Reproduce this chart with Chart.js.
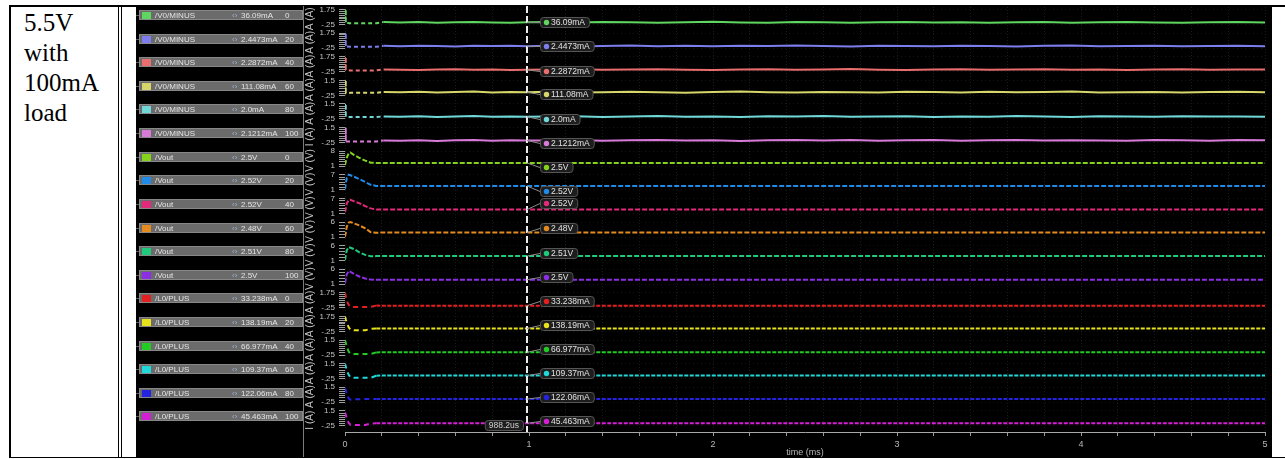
<!DOCTYPE html>
<html>
<head>
<meta charset="utf-8">
<title>5.5V with 100mA load</title>
<script src="https://cdn.jsdelivr.net/npm/chart.js@4.4.1/dist/chart.umd.min.js"></script>
<style>
  html, body { margin: 0; padding: 0; background: #fff; }
  body { width: 1285px; height: 459px; position: relative; overflow: hidden; }
  .rule { position: absolute; background: #000; }
  #condition {
    position: absolute; left: 24px; top: 8px; width: 84px;
    font: 25px/30px 'Liberation Serif', 'Times New Roman', serif; color: #000;
  }
  #wave { position: absolute; left: 136px; top: 6px; background: #000; }
</style>
</head>
<body>
<div id="condition">5.5V with 100mA load</div>
<div class="rule" style="left:9px;top:5px;width:1276px;height:2px"></div>
<div class="rule" style="left:9px;top:457px;width:1276px;height:1px"></div>
<div class="rule" style="left:9px;top:5px;width:2px;height:453px"></div>
<div class="rule" style="left:118px;top:5px;width:1px;height:453px"></div>
<div class="rule" style="left:121px;top:5px;width:1px;height:453px"></div>
<div class="rule" style="left:1271px;top:5px;width:1px;height:453px"></div>
<canvas id="wave" width="1135" height="451"></canvas>
<script>
// ---- sweep and signal set ----
const sweepPoints = [0, 20, 40, 60, 80, 100];
const signalNames = ['/V0/MINUS', '/Vout', '/L0/PLUS'];
const signalUnits = ['A', 'V', 'A'];

// ---- per-strip axis labels ----
const axisTitles = ['A (A)', 'A (A)', 'A (A)', 'A (A)', 'A (A)', 'I (A)',
                    'V (V)', 'V (V)', 'V (V)', 'V (V)', 'V (V)', 'V (V)',
                    'A (A)', 'A (A)', 'A (A)', 'A (A)', 'A (A)', 'I (A)'];
const axisTopTicks = [1.75, 1.75, 1.75, 1.5, 1.5, 1.5,
                      8, 7, 7, 6, 6, 6,
                      1.75, 1.75, 1.5, 1.5, 1.5, 1.5];
const axisBottomTicks = [-0.25, -0.25, -0.25, -0.25, -0.25, -0.25,
                         1, 1, 1, 1, 1, 1,
                         -0.25, -0.25, -0.25, -0.25, -0.25, -0.25];
const axisTickSteps = [0.25, 0.25, 0.25, 0.25, 0.25, 0.25,
                       1, 1, 1, 1, 1, 1,
                       0.25, 0.25, 0.25, 0.25, 0.25, 0.25];
const timeMajorTicks = [0, 1, 2, 3, 4, 5];
const cursorTimeMs = 0.9882;

// ---- /V0/MINUS currents (A) ----
const tMinus = [0, 0.004, 0.03, 0.08, 0.13, 0.17, 0.21, 0.3, 0.4, 0.5, 0.6, 0.7, 0.8, 0.9, 0.9882, 1.1,
  1.25, 1.4, 1.55, 1.7, 1.85, 2.0, 2.15, 2.3, 2.45, 2.6, 2.75, 2.9, 3.05, 3.2, 3.35, 3.5, 3.65, 3.8, 3.95,
  4.1, 4.25, 4.4, 4.55, 4.7, 4.85, 5.0];
const iMinus0 = [1.78, -0.02, -0.08, -0.08, -0.08, -0.08, 0.09, 0.02, 0.08, -0.01, 0.06, 0.10, 0.03, -0.02, 0.03609, 0.07,
  0.01, 0.09, 0.04, -0.02, 0.06, 0.11, 0.03, 0.00, 0.07, 0.05, -0.03, 0.04, 0.10, 0.02, 0.06, -0.01, 0.05, 0.09, 0.00,
  0.04, 0.08, 0.02, -0.02, 0.06, 0.10, 0.03];
const iMinus20 = [1.78, -0.03, -0.08, -0.08, -0.08, -0.08, 0.05, 0.00, 0.07, 0.03, -0.03, 0.06, 0.02, 0.08, 0.0024473, 0.05,
  -0.02, 0.04, 0.09, 0.01, 0.05, -0.01, 0.07, 0.03, 0.10, 0.02, -0.02, 0.06, 0.04, 0.00, 0.08, 0.03, -0.03, 0.05, 0.09,
  0.01, 0.04, 0.07, -0.01, 0.03, 0.06, 0.00];
const iMinus40 = [1.70, -0.03, -0.07, -0.07, -0.07, -0.07, 0.06, 0.03, -0.01, 0.05, 0.08, 0.02, 0.06, -0.02, 0.0022872, 0.04,
  0.07, 0.00, 0.05, 0.09, 0.03, -0.02, 0.04, 0.08, 0.01, 0.06, 0.10, 0.02, -0.01, 0.05, 0.07, 0.00, 0.04, 0.08, 0.03,
  0.06, -0.01, 0.05, 0.09, 0.02, 0.04, 0.06];
const iMinus60 = [1.50, 0.00, 0.04, 0.04, 0.04, 0.04, 0.15, 0.10, 0.17, 0.08, 0.13, 0.19, 0.09, 0.14, 0.11108, 0.16,
  0.07, 0.12, 0.18, 0.10, 0.06, 0.14, 0.20, 0.11, 0.08, 0.15, 0.12, 0.07, 0.17, 0.13, 0.09, 0.16, 0.10, 0.14, 0.19,
  0.08, 0.12, 0.15, 0.09, 0.13, 0.18, 0.11];
const iMinus80 = [1.50, -0.02, -0.02, -0.02, -0.02, -0.02, 0.05, 0.01, 0.06, -0.03, 0.04, 0.08, 0.00, 0.05, 0.0020, 0.03,
  0.07, -0.01, 0.04, 0.09, 0.02, 0.05, -0.02, 0.06, 0.03, 0.08, 0.00, 0.04, 0.07, -0.01, 0.05, 0.02, 0.08, 0.03, -0.02,
  0.06, 0.04, 0.01, 0.07, 0.03, 0.05, 0.00];
const iMinus100 = [1.50, -0.12, -0.12, -0.12, -0.12, -0.12, 0.00, -0.04, 0.03, -0.06, 0.01, 0.05, -0.03, 0.02, 0.0021212, -0.02,
  0.04, -0.05, 0.01, 0.06, -0.02, 0.03, -0.06, 0.02, 0.05, -0.01, 0.04, -0.04, 0.01, 0.06, -0.03, 0.02, 0.05, -0.02, 0.03,
  0.00, -0.05, 0.04, 0.01, -0.03, 0.05, 0.02];

// ---- /Vout (V) and /L0/PLUS (A) share one time base ----
const tStep = [0, 0.005, 0.01, 0.02, 0.03, 0.05, 0.08, 0.11, 0.14, 0.17, 0.2, 0.35, 0.55, 0.75, 0.9882,
  1.25, 1.6, 2.0, 2.4, 2.8, 3.2, 3.6, 4.0, 4.5, 5.0];
const vOut0 = [1.5, 3.4, 5.0, 7.0, 7.3, 6.2, 4.8, 3.6, 2.6, 2.5, 2.5, 2.5, 2.5, 2.5, 2.5,
  2.5, 2.5, 2.5, 2.5, 2.5, 2.5, 2.5, 2.5, 2.5, 2.5];
const vOut20 = [1.2, 3.8, 5.8, 7.0, 6.8, 6.2, 5.2, 4.1, 3.0, 2.52, 2.52, 2.52, 2.52, 2.52, 2.52,
  2.52, 2.52, 2.52, 2.52, 2.52, 2.52, 2.52, 2.52, 2.52, 2.52];
const vOut40 = [1.5, 3.2, 5.0, 6.3, 6.4, 5.8, 5.0, 3.9, 3.0, 2.52, 2.52, 2.52, 2.52, 2.52, 2.52,
  2.52, 2.52, 2.52, 2.52, 2.52, 2.52, 2.52, 2.52, 2.52, 2.52];
const vOut60 = [1.1, 2.8, 4.5, 5.8, 6.0, 5.5, 4.8, 3.9, 2.6, 2.45, 2.47, 2.48, 2.48, 2.48, 2.48,
  2.48, 2.48, 2.48, 2.48, 2.48, 2.48, 2.48, 2.48, 2.48, 2.48];
const vOut80 = [1.2, 3.0, 4.5, 5.5, 5.3, 4.8, 3.7, 2.9, 2.45, 2.5, 2.51, 2.51, 2.51, 2.51, 2.51,
  2.51, 2.51, 2.51, 2.51, 2.51, 2.51, 2.51, 2.51, 2.51, 2.51];
const vOut100 = [1.3, 3.0, 4.3, 5.4, 5.1, 4.4, 3.5, 2.9, 2.55, 2.5, 2.5, 2.5, 2.5, 2.5, 2.5,
  2.5, 2.5, 2.5, 2.5, 2.5, 2.5, 2.5, 2.5, 2.5, 2.5];
const iPlus0 = [1.75, 1.2, 0.7, 0.15, -0.12, -0.13, -0.12, -0.13, -0.13, 0.05, 0.04, 0.03, 0.035, 0.03, 0.033238,
  0.035, 0.03, 0.034, 0.032, 0.035, 0.03, 0.033, 0.034, 0.031, 0.033];
const iPlus20 = [1.75, 1.3, 0.9, 0.3, -0.05, -0.1, -0.1, -0.1, 0.12, 0.14, 0.135, 0.14, 0.137, 0.14, 0.13819,
  0.136, 0.14, 0.138, 0.135, 0.139, 0.137, 0.14, 0.136, 0.138, 0.139];
const iPlus40 = [1.5, 1.1, 0.7, 0.15, -0.1, -0.12, -0.12, -0.12, -0.12, 0.06, 0.07, 0.065, 0.068, 0.066, 0.066977,
  0.067, 0.065, 0.068, 0.066, 0.067, 0.069, 0.066, 0.067, 0.065, 0.068];
const iPlus60 = [1.5, 1.1, 0.7, 0.2, -0.1, -0.15, -0.15, -0.15, -0.14, 0.1, 0.11, 0.108, 0.11, 0.109, 0.10937,
  0.11, 0.108, 0.109, 0.111, 0.108, 0.11, 0.109, 0.107, 0.11, 0.109];
const iPlus80 = [1.4, 1.1, 0.7, 0.2, 0.05, 0.1, 0.11, 0.12, 0.12, 0.122, 0.121, 0.123, 0.12, 0.122, 0.12206,
  0.121, 0.123, 0.122, 0.12, 0.122, 0.123, 0.121, 0.122, 0.12, 0.122];
const iPlus100 = [1.3, 1.0, 0.6, 0.1, -0.12, -0.15, -0.15, -0.15, 0.04, 0.045, 0.046, 0.044, 0.045, 0.046, 0.045463,
  0.044, 0.046, 0.045, 0.044, 0.046, 0.045, 0.047, 0.045, 0.044, 0.046];

// ---- trace styling ----
const traceColors = ['#5fd65f', '#7d7ded', '#ea6e6e', '#d6d66a', '#70d8d8', '#d87ad8',
                     '#84d21c', '#1f8be6', '#e2297c', '#e38b1f', '#1fca7c', '#8d2de6',
                     '#e3201f', '#e8e21c', '#22cc22', '#20d8d8', '#2424e0', '#d420d4'];
const groupStyle = [
  { early: [4, 3], late: [], earlyEnd: 0.2 },
  { early: [5, 2], late: [5, 2], earlyEnd: 0 },
  { early: [5, 4], late: [4, 1.5], earlyEnd: 0.17 }
];
const calloutNudge = [0, 0, 1, 2, 2, 3, 4.5, 5.5, -6.5, -4.5, -3.5, -3, -5, -4, -3.5, -3, -2, -2];

// ---- strips: one y axis per signal/sweep combination ----
const groupTimes = [tMinus, tStep, tStep];
const groupValues = [
  [iMinus0, iMinus20, iMinus40, iMinus60, iMinus80, iMinus100],
  [vOut0, vOut20, vOut40, vOut60, vOut80, vOut100],
  [iPlus0, iPlus20, iPlus40, iPlus60, iPlus80, iPlus100]
];

function tickText(v) {
  return String(v).replace(/^(-?)0\./, '$1.');
}
function formatReading(v, unit) {
  let n = v, suffix = unit;
  if (unit === 'A' && Math.abs(v) < 1) { n = v * 1000; suffix = 'mA'; }
  let s = String(Number(n.toPrecision(5)));
  if (!s.includes('.')) s += '.0';
  return s + suffix;
}
function formatTime(ms) {
  return String(Number((ms * 1000).toPrecision(4))) + 'us';
}
function readingAt(ds, t) {
  return ds.data.find(p => p.x === t).y;
}
// strips butt against each other: no half-label padding above/below
function stripFit(s) {
  s.width = 40;
  s.paddingTop = 0;
  s.paddingBottom = 0;
}

const lanes = [];
signalNames.forEach((name, g) => {
  sweepPoints.forEach((sweep, k) => {
    const i = lanes.length;
    const lo = axisBottomTicks[i], hi = axisTopTicks[i], step = axisTickSteps[i];
    const tickValues = [];
    for (let v = lo; v <= hi + 1e-9; v += step) tickValues.push(Number(v.toFixed(4)));
    lanes.push({ name, sweep, unit: signalUnits[g], group: g, t: groupTimes[g], v: groupValues[g][k],
                 lo, hi, tickValues, title: axisTitles[i] });
  });
});

const datasets = lanes.map((ln, i) => {
  const st = groupStyle[ln.group];
  return {
    label: ln.name + ' ' + ln.sweep,
    signal: ln.name,
    sweep: ln.sweep,
    unit: ln.unit,
    data: ln.t.map((t, k) => ({ x: t, y: ln.v[k] })),
    yAxisID: 'y' + i,
    borderColor: traceColors[i],
    backgroundColor: traceColors[i],
    borderWidth: 2,
    borderDash: st.late,
    pointRadius: 0,
    fill: false,
    segment: { borderDash: c => (c.p0.parsed.x < st.earlyEnd ? st.early : undefined) }
  };
});

const scales = {
  x: {
    type: 'linear', min: 0, max: 5,
    afterFit: s => { s.height = 25; s.paddingLeft = 0; s.paddingRight = 0; },
    ticks: {
      stepSize: 0.2, autoSkip: false, maxRotation: 0, color: '#b8b8b8', font: { size: 9 }, padding: 3,
      callback: v => {
        const r = Math.round(v);
        return (Math.abs(v - r) < 1e-6 && timeMajorTicks.includes(r)) ? String(r) : '';
      }
    },
    grid: { color: 'rgba(255,255,255,0.10)', tickColor: '#9a9a9a', tickLength: 4 },
    border: { display: true, color: '#a8a8a8', dash: [1, 2] },
    title: { display: true, text: 'time (ms)', color: '#b8b8b8', font: { size: 9, lineHeight: 1 }, padding: 0 }
  }
};
lanes.forEach((ln, i) => {
  const span = ln.hi - ln.lo;
  scales['y' + i] = {
    type: 'linear', position: 'left', stack: 'strips', stackWeight: 1, weight: lanes.length - i, offset: false,
    min: ln.lo - span * 0.407, max: ln.hi + span * 0.1667,
    afterFit: stripFit,
    afterBuildTicks: s => { s.ticks = ln.tickValues.map(v => ({ value: v })); },
    ticks: {
      autoSkip: false, color: '#c4c4c4', font: { size: 8 }, padding: 4,
      callback: v => (v === ln.hi || v === ln.lo) ? tickText(v) : ''
    },
    grid: {
      drawOnChartArea: true, tickLength: 6, tickColor: '#a0a0a0',
      color: c => (c.tick && (c.tick.value === ln.hi || c.tick.value === ln.lo)) ? 'rgba(255,255,255,0.08)' : 'rgba(0,0,0,0)'
    },
    border: { display: false, dash: [1, 3] },
    title: { display: true, text: ln.title, color: '#c4c4c4', font: { size: 10, lineHeight: 1 }, padding: 0 }
  };
});

// Signal list on the left: one grey row per trace
const signalPanel = {
  id: 'signalPanel',
  afterDraw(chart, args, o) {
    const ctx = chart.ctx;
    ctx.save();
    ctx.strokeStyle = '#7c7c7c';
    ctx.lineWidth = 1;
    ctx.beginPath();
    ctx.moveTo(o.dividerX + 0.5, 0);
    ctx.lineTo(o.dividerX + 0.5, chart.height);
    ctx.stroke();
    ctx.textBaseline = 'middle';
    chart.data.datasets.forEach((ds, i) => {
      const sc = chart.scales['y' + i];
      const cy = Math.round(sc.top + o.rowOffset);
      ctx.strokeStyle = '#5c5c5c';
      ctx.beginPath(); ctx.moveTo(0, cy + 0.5); ctx.lineTo(o.barLeft, cy + 0.5); ctx.stroke();
      ctx.fillStyle = '#6b6b6b';
      ctx.fillRect(o.barLeft, cy - 5, o.barWidth, 10);
      ctx.strokeStyle = '#888';
      ctx.strokeRect(o.barLeft + 0.5, cy - 4.5, o.barWidth - 1, 9);
      ctx.fillStyle = ds.borderColor;
      ctx.fillRect(o.swatchX, cy - 3, 9, 7);
      ctx.font = "8px 'Liberation Sans', Arial, sans-serif";
      ctx.fillStyle = '#e4e4e4';
      ctx.fillText(ds.signal, o.nameX, cy + 0.5);
      ctx.fillText(formatReading(readingAt(ds, cursorTimeMs), ds.unit), o.valueX, cy + 0.5);
      ctx.fillText(String(ds.sweep), o.sweepX, cy + 0.5);
      ctx.fillStyle = '#9db5d8';
      ctx.fillText('‹›', o.iconX, cy + 0.5);
    });
    ctx.restore();
  }
};

// Vertical cursor with a reading for every trace
const cursorReadout = {
  id: 'cursorReadout',
  afterDatasetsDraw(chart, args, o) {
    const { ctx, chartArea, scales: sc } = chart;
    const x = Math.round(sc.x.getPixelForValue(o.time));
    ctx.save();
    ctx.strokeStyle = '#ececec';
    ctx.lineWidth = 2;
    ctx.setLineDash([7, 3]);
    ctx.beginPath(); ctx.moveTo(x, 0); ctx.lineTo(x, chartArea.bottom); ctx.stroke();
    ctx.setLineDash([]);
    ctx.font = "8.5px 'Liberation Sans', Arial, sans-serif";
    ctx.textBaseline = 'middle';
    chart.data.datasets.forEach((ds, i) => {
      const v = readingAt(ds, o.time);
      const ty = sc['y' + i].getPixelForValue(v);
      const ly = Math.round(ty + o.nudge[i]) + 0.5;
      const text = formatReading(v, ds.unit);
      const w = ctx.measureText(text).width;
      const bx = x + 13, bw = w + 15, bh = 10;
      ctx.strokeStyle = '#8c8c8c'; ctx.lineWidth = 1;
      ctx.beginPath(); ctx.moveTo(x, ty); ctx.lineTo(bx, ly); ctx.stroke();
      ctx.fillStyle = '#1d1d1d'; ctx.strokeStyle = '#555';
      ctx.beginPath(); ctx.roundRect(bx + 0.5, ly - bh / 2, bw, bh, 3); ctx.fill(); ctx.stroke();
      ctx.fillStyle = ds.borderColor;
      ctx.beginPath(); ctx.arc(bx + 6.5, ly, 2.7, 0, Math.PI * 2); ctx.fill();
      ctx.fillStyle = '#e2e2e2';
      ctx.fillText(text, bx + 11, ly + 0.5);
    });
    const tt = formatTime(o.time);
    const tw = ctx.measureText(tt).width + 8;
    const ty = chartArea.bottom - 6.5;
    ctx.fillStyle = '#1d1d1d'; ctx.strokeStyle = '#555';
    ctx.beginPath(); ctx.roundRect(x - 4 - tw + 0.5, ty - 5, tw, 10, 3); ctx.fill(); ctx.stroke();
    ctx.fillStyle = '#cfcfcf';
    ctx.fillText(tt, x - tw, ty + 0.5);
    ctx.restore();
  }
};

Chart.defaults.font.family = "'Liberation Sans', Arial, sans-serif";

new Chart(document.getElementById('wave'), {
  type: 'line',
  data: { datasets },
  options: {
    responsive: false,
    animation: false,
    events: [],
    layout: { padding: { left: 169, right: 6, top: 1, bottom: 0 } },
    scales,
    plugins: {
      legend: { display: false },
      tooltip: { enabled: false },
      signalPanel: { dividerX: 167, rowOffset: 8, barLeft: 3, barWidth: 164, swatchX: 6,
                     nameX: 19, iconX: 96, valueX: 105, sweepX: 149 },
      cursorReadout: { time: cursorTimeMs, nudge: calloutNudge }
    }
  },
  plugins: [signalPanel, cursorReadout]
});
</script>
</body>
</html>
